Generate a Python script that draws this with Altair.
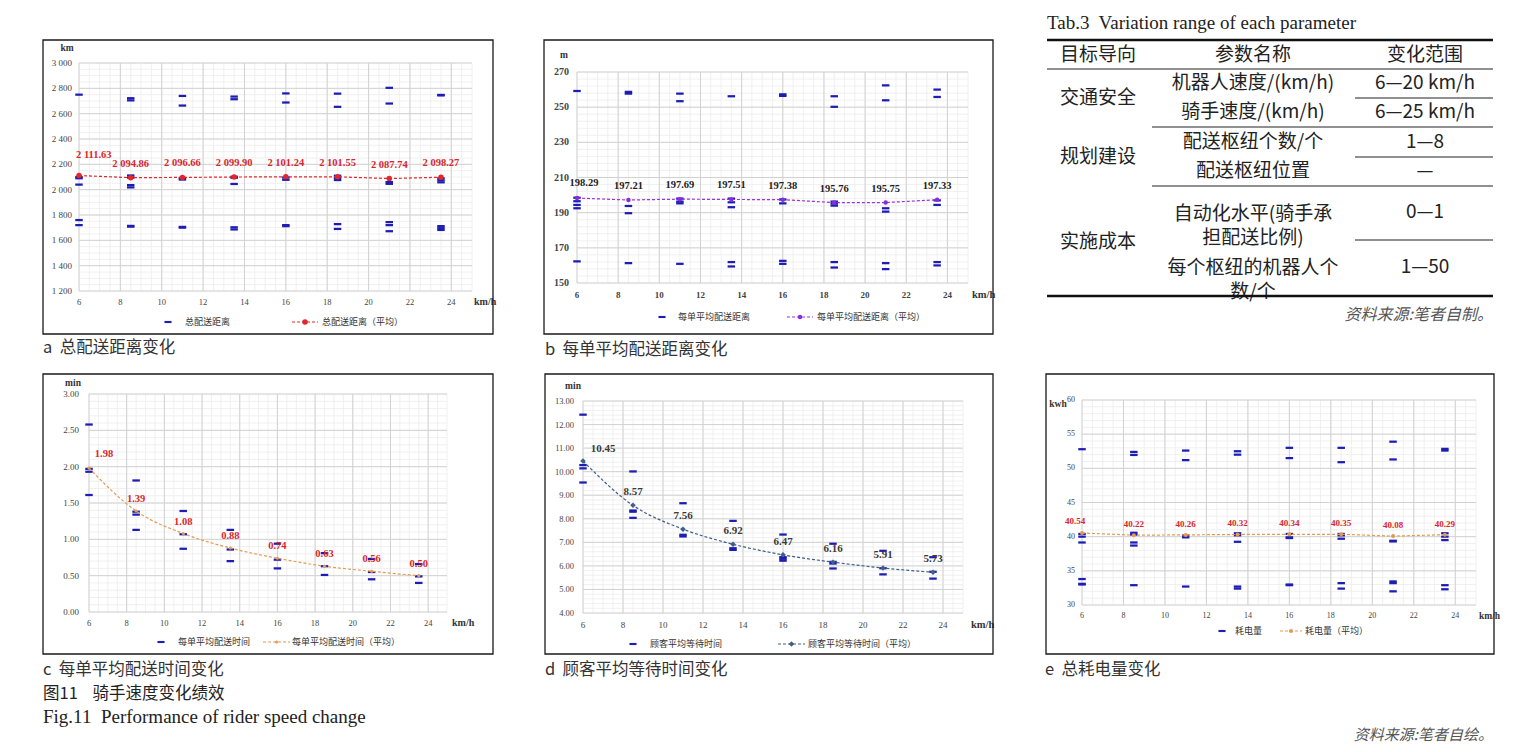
import altair as alt
import pandas as pd

# ---------------- data ----------------
speeds = [6, 8.5, 11, 13.5, 16, 18.5, 21, 23.5]
x_ticks = [6, 8, 10, 12, 14, 16, 18, 20, 22, 24]

# a 总配送距离 (km)
dist_runs = [
    [2750, 2100, 2090, 2040, 1760, 1720],
    [2722, 2705, 2112, 2095, 2036, 2018, 1714, 1708],
    [2740, 2664, 2092, 2080, 1706, 1700],
    [2735, 2714, 2102, 2094, 2045, 1703, 1686],
    [2760, 2688, 2096, 2078, 1720, 1712],
    [2758, 2654, 2110, 2092, 2076, 1728, 1690],
    [2804, 2680, 2060, 2046, 1744, 1720, 1672],
    [2748, 2744, 2090, 2074, 2058, 1712, 1696, 1682],
]
dist_avg = [2111.63, 2094.86, 2096.66, 2099.90, 2101.24, 2101.55, 2087.74, 2098.27]
dist_ticks = [1200, 1400, 1600, 1800, 2000, 2200, 2400, 2600, 2800, 3000]

# b 每单平均配送距离 (m)
odist_runs = [
    [259.2, 198.5, 196.5, 194.4, 192.5, 162.3],
    [258.7, 257.7, 193.8, 189.7, 161.3],
    [257.7, 253.4, 198.0, 196.3, 195.3, 160.9],
    [256.2, 198.0, 195.9, 193.1, 161.9, 159.4],
    [257.3, 256.4, 197.5, 195.3, 162.6, 160.9],
    [256.2, 250.2, 196.3, 195.2, 194.0, 161.9, 158.8],
    [262.4, 253.9, 192.5, 190.6, 161.3, 157.9],
    [260.0, 255.8, 197.0, 194.4, 161.9, 160.0],
]
odist_avg = [198.29, 197.21, 197.69, 197.51, 197.38, 195.76, 195.75, 197.33]
odist_ticks = [150, 170, 190, 210, 230, 250, 270]

# c 每单平均配送时间 (min)
otime_runs = [
    [2.58, 1.97, 1.93, 1.61],
    [1.81, 1.38, 1.34, 1.13],
    [1.39, 1.07, 0.87],
    [1.13, 0.86, 0.70],
    [0.94, 0.72, 0.60],
    [0.81, 0.63, 0.51],
    [0.73, 0.55, 0.45],
    [0.66, 0.49, 0.40],
]
otime_avg = [1.98, 1.39, 1.08, 0.88, 0.74, 0.63, 0.56, 0.50]
otime_ticks = [0.0, 0.5, 1.0, 1.5, 2.0, 2.5, 3.0]

# d 顾客平均等待时间 (min)
wait_runs = [
    [12.42, 10.28, 10.14, 9.54],
    [10.01, 8.35, 8.30, 8.04],
    [8.66, 7.32, 7.25],
    [7.91, 6.75, 6.68],
    [7.33, 6.37, 6.30, 6.22],
    [6.94, 6.17, 6.10, 5.89],
    [6.64, 5.90, 5.64],
    [6.37, 5.75, 5.46],
]
wait_avg = [10.45, 8.57, 7.56, 6.92, 6.47, 6.16, 5.91, 5.73]
wait_ticks = [4, 5, 6, 7, 8, 9, 10, 11, 12, 13]

# e 总耗电量 (kwh)
power_runs = [
    [52.8, 40.4, 40.0, 39.15, 33.8, 33.1, 33.0],
    [52.4, 51.96, 40.57, 40.3, 39.15, 38.7, 32.9],
    [52.6, 51.2, 40.2, 39.9, 32.7],
    [52.5, 52.0, 40.5, 40.2, 39.25, 32.7, 32.4],
    [53.0, 51.5, 40.4, 39.9, 39.8, 33.0, 32.9],
    [53.0, 50.9, 40.4, 40.2, 39.7, 33.2, 32.4],
    [53.9, 51.3, 39.4, 39.3, 33.45, 33.2, 32.0],
    [52.85, 52.6, 40.5, 40.0, 39.5, 32.9, 32.3],
]
power_avg = [40.54, 40.22, 40.26, 40.32, 40.34, 40.35, 40.08, 40.29]
power_ticks = [30, 35, 40, 45, 50, 55, 60]

# 表3
table_header = ["目标导向", "参数名称", "变化范围"]
goal_labels = ["交通安全", "规划建设", "实施成本"]
param_names = ["机器人速度/(km/h)", "骑手速度/(km/h)", "配送枢纽个数/个", "配送枢纽位置",
               "自动化水平(骑手承\n担配送比例)", "每个枢纽的机器人个\n数/个"]
param_ranges = ["6—20 km/h", "6—25 km/h", "1—8", "—", "0—1", "1—50"]

# ---------------- styling helpers ----------------
OFF = 8
SERIF = "Liberation Serif"
CJK = "Noto Sans CJK SC"
BLUE = "#1d1db4"
DASH = "M-1,-0.3L1,-0.3L1,0.3L-1,0.3Z"
NB = "\u00a0"
ONE = pd.DataFrame({"k": [0]})


def p(v):
    return v - OFF


def sp(v):
    return f"{v:,.0f}".replace(",", " ")


def sp2(v):
    return f"{v:,.2f}".replace(",", " ")


def free_text(txt, x, y, **kw):
    return alt.Chart(ONE).mark_text(text=txt, **kw).encode(
        x=alt.value(p(x)), y=alt.value(p(y)))


def panel(c):
    ylo, yhi = c["ticks"][0], c["ticks"][-1]
    xs = alt.Scale(domain=[6, 25], range=[p(c["xr"][0]), p(c["xr"][1])], nice=False, zero=False)
    ys = alt.Scale(domain=[ylo, yhi], range=[p(c["yr"][0]), p(c["yr"][1])], nice=False, zero=False)

    def X(f):
        return alt.X(f, scale=xs, axis=None)

    def Y(f):
        return alt.Y(f, scale=ys, axis=None)

    step = c["ticks"][1] - c["ticks"][0]
    n_minor = int(round((yhi - ylo) / step * c["sub"]))
    minor_y = [ylo + k * step / c["sub"] for k in range(n_minor + 1)]
    minor_x = [6 + 0.5 * k for k in range(39)]

    hmin = pd.DataFrame({"v": minor_y, "lo": 6, "hi": 25})
    vmin = pd.DataFrame({"v": minor_x, "lo": ylo, "hi": yhi})
    hmaj = pd.DataFrame({"v": c["ticks"], "lo": 6, "hi": 25})
    vmaj = pd.DataFrame({"v": x_ticks, "lo": ylo, "hi": yhi})

    layers = [
        alt.Chart(hmin).mark_rule(color="#ececec", strokeWidth=0.8).encode(
            x=X("lo:Q"), x2=alt.X2("hi:Q"), y=Y("v:Q")),
        alt.Chart(vmin).mark_rule(color="#ececec", strokeWidth=0.8).encode(
            x=X("v:Q"), y=Y("lo:Q"), y2=alt.Y2("hi:Q")),
        alt.Chart(hmaj).mark_rule(color="#d2d2d2", strokeWidth=1).encode(
            x=X("lo:Q"), x2=alt.X2("hi:Q"), y=Y("v:Q")),
        alt.Chart(vmaj).mark_rule(color="#d2d2d2", strokeWidth=1).encode(
            x=X("v:Q"), y=Y("lo:Q"), y2=alt.Y2("hi:Q")),
    ]

    runs = pd.DataFrame(
        [{"s": s, "v": v} for s, vals in zip(speeds, c["runs"]) for v in vals])
    layers.append(alt.Chart(runs).mark_point(
        shape=DASH, filled=True, size=56, color=BLUE, opacity=1, strokeWidth=0
    ).encode(x=X("s:Q"), y=Y("v:Q")))

    avg = pd.DataFrame({"s": speeds, "v": c["avg"], "i": list(range(len(speeds))),
                        "lbl": [c["lblfmt"](v) for v in c["avg"]]})
    dash_kw = dict(color=c["color"], strokeDash=[3, 2], strokeWidth=1.2)
    line_kw = dict(dash_kw)
    if c.get("smooth"):
        line_kw["interpolate"] = "monotone"
    layers.append(alt.Chart(avg).mark_line(**line_kw).encode(x=X("s:Q"), y=Y("v:Q")))
    layers.append(alt.Chart(avg).mark_point(
        shape=c["shape"], filled=True, size=c["psize"], color=c["pcolor"], opacity=1
    ).encode(x=X("s:Q"), y=Y("v:Q")))

    lab_kw = dict(font=SERIF, fontWeight="bold", fontSize=c["lsize"], color=c["lcolor"])
    layers.append(alt.Chart(avg).transform_filter(alt.datum.i > 0).mark_text(
        dy=c["ldy"], **lab_kw).encode(x=X("s:Q"), y=Y("v:Q"), text="lbl:N"))
    fa, fdx, fdy = c["first"]
    layers.append(alt.Chart(avg).transform_filter(alt.datum.i == 0).mark_text(
        align=fa, dx=fdx, dy=fdy, **lab_kw).encode(x=X("s:Q"), y=Y("v:Q"), text="lbl:N"))

    # axis labels
    ylab = pd.DataFrame({"v": c["ticks"], "lbl": [c["fmt"](v) for v in c["ticks"]]})
    xlab = pd.DataFrame({"v": x_ticks, "lbl": [str(v) for v in x_ticks]})
    ax_kw = dict(font=SERIF, color="#444", fontWeight=c["aw"])
    layers.append(alt.Chart(ylab).mark_text(
        align="right", baseline="middle", fontSize=c["ysize"], **ax_kw
    ).encode(x=alt.value(p(c["ylx"])), y=Y("v:Q"), text="lbl:N"))
    layers.append(alt.Chart(xlab).mark_text(
        align="center", baseline="middle", fontSize=c["xsize"], **ax_kw
    ).encode(x=X("v:Q"), y=alt.value(p(c["xly"])), text="lbl:N"))

    unit, ux, uy = c["unit"]
    layers.append(free_text(unit, ux, uy, font=SERIF, fontWeight="bold", fontSize=9.5,
                            color="#333", align="center", baseline="middle"))
    layers.append(free_text("km/h", c["kmh"], c["xly"], font=SERIF, fontWeight="bold",
                            fontSize=c["xsize"] + 1.5, color="#333", align="left",
                            baseline="middle"))

    # legend
    ly = c["leg_y"]
    m1, t1 = c["leg1"]
    l0, l1, t2 = c["leg2"]
    layers.append(alt.Chart(ONE).mark_point(
        shape=DASH, filled=True, size=50, color=BLUE, opacity=1, strokeWidth=0
    ).encode(x=alt.value(p(m1)), y=alt.value(p(ly))))
    layers.append(free_text(c["names"][0], t1, ly, font=CJK, fontSize=9, color="#333",
                            align="left", baseline="middle"))
    layers.append(alt.Chart(ONE).mark_rule(**dash_kw).encode(
        x=alt.value(p(l0)), x2=alt.value(p(l1)), y=alt.value(p(ly))))
    layers.append(alt.Chart(ONE).mark_point(
        shape=c["shape"], filled=True, size=c["psize"], color=c["pcolor"], opacity=1
    ).encode(x=alt.value(p((l0 + l1) / 2)), y=alt.value(p(ly))))
    layers.append(free_text(c["names"][1], t2, ly, font=CJK, fontSize=9, color="#333",
                            align="left", baseline="middle"))

    # frame
    bx0, by0, bx1, by1 = c["box"]
    layers.append(alt.Chart(ONE).mark_rect(fill="transparent", stroke="#1a1a1a",
                                           strokeWidth=1.3).encode(
        x=alt.value(p(bx0)), x2=alt.value(p(bx1)), y=alt.value(p(by0)), y2=alt.value(p(by1))))

    # caption
    cap, cx, cy = c["caption"]
    layers.append(free_text(cap, cx, cy, font=CJK, fontSize=16.5, color="#333",
                            align="left", baseline="middle"))
    return alt.layer(*layers)


panels = [
    dict(runs=dist_runs, avg=dist_avg, ticks=dist_ticks, sub=4, fmt=sp, lblfmt=sp2,
         box=(43, 40, 493, 334), xr=(79, 472), yr=(291, 63),
         color="#e3262b", pcolor="#e3262b", shape="circle", psize=30,
         lcolor="#d9262c", lsize=10.5, ldy=-14, first=("left", -3, -21),
         aw="normal", ysize=9, xsize=8.5, ylx=72, xly=302, kmh=474,
         unit=("km", 67, 48), leg_y=322, leg1=(168, 185), leg2=(292, 318, 322),
         names=["总配送距离", "总配送距离（平均）"],
         caption=("a" + NB * 2 + "总配送距离变化", 43, 348)),
    dict(runs=odist_runs, avg=odist_avg, ticks=odist_ticks, sub=5, fmt=lambda v: f"{v:.0f}",
         lblfmt=lambda v: f"{v:.2f}",
         box=(544, 40, 993, 334), xr=(577, 968), yr=(283, 72),
         color="#9b30d9", pcolor="#8a2be2", shape="circle", psize=20,
         lcolor="#222", lsize=10.5, ldy=-14, first=("center", 7, -15),
         aw="bold", ysize=10, xsize=9, ylx=569, xly=295, kmh=972,
         unit=("m", 564, 55), leg_y=317, leg1=(662, 678), leg2=(787, 813, 817),
         names=["每单平均配送距离", "每单平均配送距离（平均）"],
         caption=("b" + NB * 2 + "每单平均配送距离变化", 545, 350)),
    dict(runs=otime_runs, avg=otime_avg, ticks=otime_ticks, sub=5, fmt=lambda v: f"{v:.2f}",
         lblfmt=lambda v: f"{v:.2f}", smooth=True,
         box=(43, 374, 493, 654), xr=(89, 447), yr=(612, 394),
         color="#e59a55", pcolor="#e59a55", shape="circle", psize=10,
         lcolor="#d9262c", lsize=10.5, ldy=-12, first=("center", 15, -14),
         aw="normal", ysize=9, xsize=8.5, ylx=79, xly=623, kmh=452,
         unit=("min", 73, 383), leg_y=642, leg1=(161, 178), leg2=(263, 290, 292),
         names=["每单平均配送时间", "每单平均配送时间（平均）"],
         caption=("c" + NB * 2 + "每单平均配送时间变化", 43, 670)),
    dict(runs=wait_runs, avg=wait_avg, ticks=wait_ticks, sub=5, fmt=lambda v: f"{v:.2f}",
         lblfmt=lambda v: f"{v:.2f}", smooth=True,
         box=(545, 374, 993, 654), xr=(583, 963), yr=(613, 401),
         color="#3f5f86", pcolor="#3f5f86", shape="diamond", psize=30,
         lcolor="#3a3a3a", lsize=11, ldy=-13, first=("center", 20, -12),
         aw="normal", ysize=8.5, xsize=9, ylx=574, xly=625, kmh=971,
         unit=("min", 573, 386), leg_y=644, leg1=(633, 650), leg2=(778, 805, 808),
         names=["顾客平均等待时间", "顾客平均等待时间（平均）"],
         caption=("d" + NB * 2 + "顾客平均等待时间变化", 545, 670)),
    dict(runs=power_runs, avg=power_avg, ticks=power_ticks, sub=5, fmt=lambda v: f"{v:.0f}",
         lblfmt=lambda v: f"{v:.2f}",
         box=(1046, 374, 1494, 654), xr=(1082, 1476), yr=(605, 400),
         color="#e39a4f", pcolor="#e39a4f", shape="circle", psize=16,
         lcolor="#d9262c", lsize=9, ldy=-11, first=("center", -7, -12),
         aw="normal", ysize=8, xsize=8, ylx=1075, xly=616, kmh=1479,
         unit=("kwh", 1058, 404), leg_y=631, leg1=(1222, 1235), leg2=(1280, 1302, 1305),
         names=["耗电量", "耗电量（平均）"],
         caption=("e" + NB * 2 + "总耗电量变化", 1045, 670)),
]

# ---------------- table ----------------
col_x = [1098, 1253, 1425]
param_y = [83, 112, 142, 171, 214, 268]
range_y = [83, 112, 142, 171, 212, 267]
goal_y = [98, 157, 242]
cells = (
    [{"t": t, "x": p(col_x[i]), "y": p(55)} for i, t in enumerate(table_header)]
    + [{"t": t, "x": p(col_x[0]), "y": p(y)} for t, y in zip(goal_labels, goal_y)]
    + [{"t": t, "x": p(col_x[1]), "y": p(y)} for t, y in zip(param_names, param_y)]
    + [{"t": t, "x": p(col_x[2]), "y": p(y)} for t, y in zip(param_ranges, range_y)]
)
cells = pd.DataFrame(cells)
thin = pd.DataFrame({"x": [p(v) for v in [1047, 1355, 1152, 1355, 1152, 1355]],
                     "x2": [p(1493)] * 6,
                     "y": [p(v) for v in [69, 98, 127, 157, 186, 240]]})
thick = pd.DataFrame({"x": [p(1047)] * 2, "x2": [p(1493)] * 2, "y": [p(40), p(296)]})

table = alt.layer(
    alt.Chart(cells).mark_text(font=CJK, fontSize=19, color="#222", lineBreak="\n",
                               lineHeight=24, align="center", baseline="middle").encode(
        x=alt.X("x:Q", scale=None, axis=None), y=alt.Y("y:Q", scale=None, axis=None),
        text="t:N"),
    alt.Chart(thin).mark_rule(color="#222", strokeWidth=1.2).encode(
        x=alt.X("x:Q", scale=None, axis=None), x2="x2:Q",
        y=alt.Y("y:Q", scale=None, axis=None)),
    alt.Chart(thick).mark_rule(color="#111", strokeWidth=2.6).encode(
        x=alt.X("x:Q", scale=None, axis=None), x2="x2:Q",
        y=alt.Y("y:Q", scale=None, axis=None)),
    free_text("Tab.3" + NB + " Variation range of each parameter", 1047, 23, font=SERIF,
              fontSize=19, color="#222", align="left", baseline="middle"),
    free_text("资料来源:笔者自制。", 1493, 315, font=CJK, fontSize=16, fontStyle="italic",
              color="#555", align="right", baseline="middle"),
)

notes = alt.layer(
    free_text("图11" + NB * 4 + "骑手速度变化绩效", 43, 694, font=CJK, fontSize=16.5,
              color="#222", align="left", baseline="middle"),
    free_text("Fig.11" + NB + " Performance of rider speed change", 43, 717, font=SERIF,
              fontSize=19, color="#222", align="left", baseline="middle"),
    free_text("资料来源:笔者自绘。", 1493, 735, font=CJK, fontSize=15, fontStyle="italic",
              color="#555", align="right", baseline="middle"),
)

chart = alt.layer(*[panel(c) for c in panels], table, notes).resolve_scale(
    x="independent", y="independent"
).properties(
    width=1523, height=736, padding=0, background="white",
    autosize=alt.AutoSizeParams(type="none"),
).configure_view(strokeOpacity=0)

chart.save("out.html", embed_options={"renderer": "svg", "actions": False})
